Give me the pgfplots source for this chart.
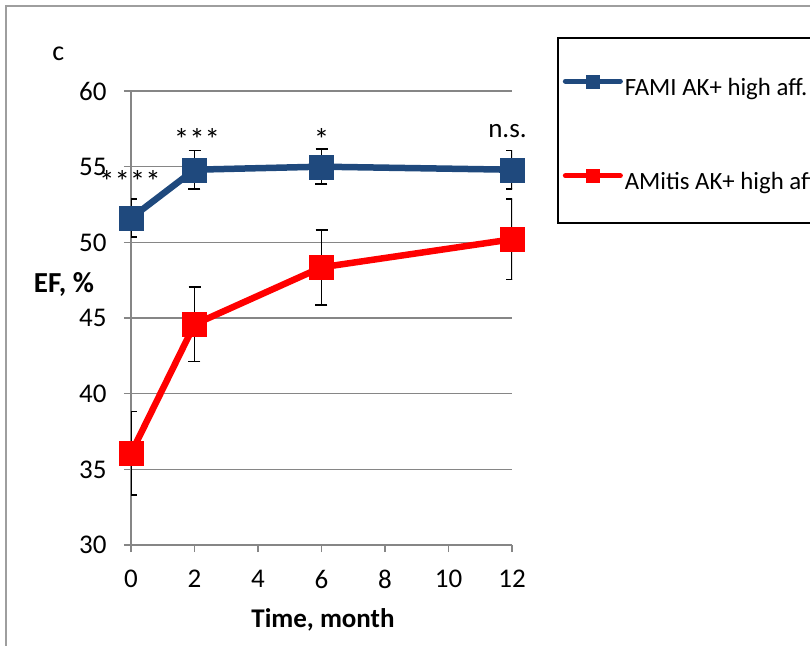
\documentclass[border=0pt]{standalone}
\usepackage{pgfplots}
\pgfplotsset{compat=1.18}
\usepackage{fontspec}
\setmainfont{Carlito}
\definecolor{fblue}{HTML}{1F497D}
\definecolor{gridgray}{HTML}{868686}
\pgfplotstableread{
x y e
0 51.6 1.26
2 54.8 1.26
6 55.0 1.16
12 54.8 1.26
}\famidata
\pgfplotstableread{
x y e
0 36.05 2.76
2 44.58 2.46
6 48.35 2.48
12 50.2 2.66
}\amitisdata
\begin{document}
\begin{tikzpicture}
\useasboundingbox (0,0) rectangle (405pt,322.5pt);
\draw[gridgray!80, line width=0.6pt] (3pt,-10pt) rectangle (420pt,319.5pt);
\draw[black, line width=1pt] (279pt,211pt) rectangle (420pt,303.5pt);
\begin{axis}[
  at={(65.5pt,50pt)}, anchor=south west, scale only axis,
  width=190.5pt, height=227pt,
  xmin=0, xmax=12, ymin=30, ymax=60,
  axis x line*=bottom, axis y line*=left,
  axis line style={-, gridgray, line width=0.75pt},
  xtick={0,2,4,6,8,10,12}, ytick={30,35,40,45,50,55,60},
  tick align=outside, major tick length=3.5pt,
  tick style={gridgray, line width=0.75pt},
  ymajorgrids, grid style={gridgray, line width=0.75pt},
  /pgf/number format/assume math mode=true,
  ticklabel style={font=\fontsize{13.5}{16}\selectfont, inner sep=0pt},
  yticklabel style={anchor=east, xshift=-8.5pt},
  xticklabel style={anchor=north, yshift=-9pt},
  legend style={at={(axis description cs:1.1325,1.0368)}, anchor=north west,
    draw=none, fill=none, inner sep=0pt, row sep=34pt, column sep=1pt,
    font=\fontsize{12.4}{14}\selectfont,
    nodes={inner sep=0pt, text height=9pt, text depth=3pt}},
  legend cell align=left,
  legend image code/.code={\draw[#1, line width=2.5pt, line cap=round, mark repeat=2, mark phase=2, mark size=3.25pt]
     plot coordinates {(0pt,4pt)(13.75pt,4pt)(27.5pt,4pt)};},
]
\addplot[fblue, line width=3.25pt, mark=square*, mark size=6pt,
  mark options={solid, fill=fblue, draw=fblue, line width=0.1pt},
  error bars/.cd, y dir=both, y explicit,
  error bar style={black, line width=0.75pt},
  error mark options={black, line width=0.75pt, mark size=3pt, rotate=90}]
  table[x=x, y=y, y error=e] {\famidata};
\addlegendentry{FAMI AK+ high aff.}
\addplot[red, line width=3.25pt, mark=square*, mark size=6pt,
  mark options={solid, fill=red, draw=red, line width=0.1pt},
  error bars/.cd, y dir=both, y explicit,
  error bar style={black, line width=0.75pt},
  error mark options={black, line width=0.75pt, mark size=3pt, rotate=90}]
  table[x=x, y=y, y error=e] {\amitisdata};
\addlegendentry{AMitis AK+ high aff}
\end{axis}
\node[anchor=base, inner sep=0pt, font=\fontsize{13.5}{16}\selectfont\bfseries] at (161.5pt,8.8pt) {Time, month};
\node[anchor=base, inner sep=0pt, font=\fontsize{14.5}{17}\selectfont\bfseries] at (32pt,176.4pt) {EF, \%};
\node[anchor=base west, inner sep=0pt, font=\fontsize{14}{16}\selectfont] at (26pt,292.5pt) {c};
\node[anchor=base, inner sep=0pt, font=\fontsize{15.5}{18}\selectfont] at (65pt,226.3pt) {****};
\node[anchor=base, inner sep=0pt, font=\fontsize{15.5}{18}\selectfont] at (98.5pt,247.5pt) {***};
\node[anchor=base, inner sep=0pt, font=\fontsize{15.5}{18}\selectfont] at (160.85pt,247.5pt) {*};
\node[anchor=base, inner sep=0pt, font=\fontsize{13.5}{16}\selectfont] at (253.75pt,254pt) {n.s.};
\end{tikzpicture}
\end{document}
